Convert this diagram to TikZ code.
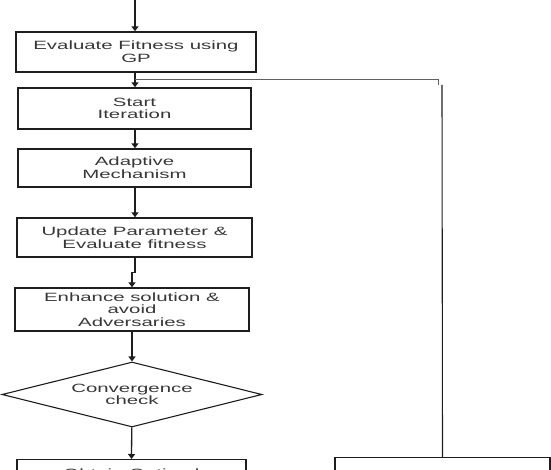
\documentclass[tikz,border=0pt]{standalone}
\usepackage{fontspec}
\setmainfont{Liberation Sans}[FakeStretch=1.7]
\definecolor{frame}{RGB}{30, 30, 30}
\definecolor{label}{RGB}{55, 55, 55}
\usetikzlibrary{shapes.geometric, arrows.meta, calc, positioning}
\tikzset{
	flowline/.style={draw=frame, line width=1.3pt},
	every picture/.style={x=1pt, y=-1pt},
}

\begin{document}
\begin{tikzpicture}[
			procbox/.style={rectangle, draw=frame, line width=1.4pt, text=label, align=center,
				font=\fontsize{12}{12.7}\selectfont, inner sep=0pt},
			checkbox/.style={diamond, aspect=4, draw=frame, line width=1.1pt, text=label, align=center,
				font=\fontsize{12}{12.7}\selectfont, inner sep=0pt, minimum width=260pt, minimum height=65pt},
			arr/.style={flowline, -{Triangle[width=7pt,length=5pt]}}]
			\useasboundingbox (0,0) rectangle (551,470);
			\clip (0,0) rectangle (551,470);
			% main column
			\node[procbox, minimum width=240pt, minimum height=40pt] (fitness) at (136,52) {Evaluate Fitness using\\GP};
			\node[procbox, minimum width=233pt, minimum height=41pt] (iter) at (134.5,108.5) {Start\\Iteration};
			\node[procbox, minimum width=233pt, minimum height=38pt] (adapt) at (134.5,168) {Adaptive\\Mechanism};
			\node[procbox, minimum width=235pt, minimum height=39pt] (update) at (134.5,237.5) {Update Parameter \&\\Evaluate fitness};
			\node[procbox, minimum width=234pt, minimum height=43pt] (enhance) at (132,309.5) {Enhance solution \&\\avoid\\Adversaries};
			\node[checkbox] (conv) at (132,394.5) {Convergence\\check};
			\node[procbox, minimum width=229pt, inner ysep=9pt, anchor=north] (optimal) at (131.5,459) {Obtain Optimal};
			\node[procbox, minimum width=215pt, minimum height=40pt, anchor=north] (side) at (442.5,457) {};
			% connectors
			\coordinate (entry) at (135,-4);
			\coordinate (split) at (135,80);
			\coordinate (bend) at (438,85);
			\coordinate (drop) at (442,85);
			\draw[arr] (entry) -- (entry |- fitness.north);
			\draw[arr] (fitness.south -| split) -- (split |- iter.north);
			\draw[arr] (iter.south -| split) -- (split |- adapt.north);
			\draw[arr] (adapt.south -| split) -- (split |- update.north);
			\draw[arr] (update.south -| split) -- ++(0,15) -| (enhance.north);
			\draw[arr] (enhance) -- (conv.north);
			\draw[arr] (conv) -- (optimal.north);
			\draw[draw=frame!70, line width=1pt] (split) -| (bend);
			\draw[flowline, line width=1.1pt] (drop) -- (side.north);
		\end{tikzpicture}
\end{document}
